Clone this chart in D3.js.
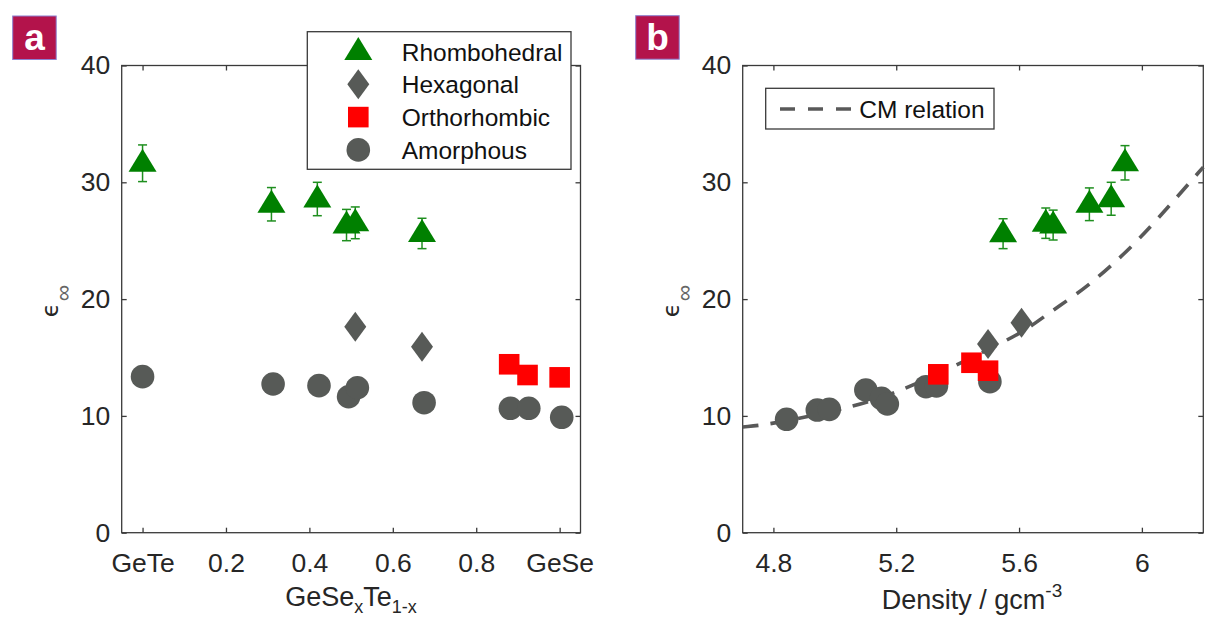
<!DOCTYPE html>
<html>
<head>
<meta charset="utf-8">
<script src="https://cdn.jsdelivr.net/npm/d3@7"></script>
<style>
body{margin:0;background:#fff}
svg text{font-family:"Liberation Sans",Arial,Helvetica,sans-serif}
</style>
</head>
<body>
<svg id="chart" width="1205" height="617"></svg>
<script>
// ---- data ----
// panel a : eps_inf vs composition x in GeSe_x Te_1-x
var comp_rhombo = [0, 0.309, 0.419, 0.489, 0.51, 0.67];
var eps_rhombo  = [31.63, 28.12, 28.57, 26.34, 26.53, 25.62];
var err_rhombo  = [1.57, 1.43, 1.43, 1.34, 1.36, 1.3];
var comp_hexa   = [0.51, 0.67];
var eps_hexa    = [17.64, 15.92];
var comp_ortho  = [0.879, 0.923, 1.0];
var eps_ortho   = [14.42, 13.5, 13.3];
var comp_amorph = [0, 0.313, 0.423, 0.494, 0.515, 0.675, 0.882, 0.926, 1.005];
var eps_amorph  = [13.36, 12.73, 12.59, 11.64, 12.41, 11.13, 10.65, 10.65, 9.88];

// panel b : eps_inf vs density
var dens_rhombo  = [5.548, 5.687, 5.711, 5.829, 5.9, 5.945];
var epsb_rhombo  = [25.6, 26.5, 26.34, 28.12, 28.59, 31.67];
var errb_rhombo  = [1.28, 1.3, 1.28, 1.4, 1.41, 1.47];
var dens_hexa    = [5.499, 5.608];
var epsb_hexa    = [16.16, 17.98];
var dens_ortho   = [5.337, 5.445, 5.499];
var epsb_ortho   = [13.56, 14.55, 13.87];
var dens_amorph  = [4.843, 4.943, 4.982, 5.101, 5.152, 5.171, 5.297, 5.331, 5.505];
var epsb_amorph  = [9.71, 10.5, 10.56, 12.22, 11.5, 11.02, 12.5, 12.56, 12.93];
var cm_dens = [4.70, 4.80, 5.07, 5.24, 5.59, 5.65, 5.73, 5.83, 5.97, 6.09, 6.20];
var cm_eps  = [9.05, 9.3, 10.8, 12.35, 16.8, 17.9, 19.4, 21.2, 24.5, 28.0, 31.3];

// ticks
var y_ticks = [0, 10, 20, 30, 40];
var xa_ticks = [0, 0.2, 0.4, 0.6, 0.8, 1];
var xa_labels = ["GeTe", "0.2", "0.4", "0.6", "0.8", "GeSe"];
var xb_ticks = [4.8, 5.2, 5.6, 6];
var xb_labels = ["4.8", "5.2", "5.6", "6"];
var legend_names = ["Rhombohedral", "Hexagonal", "Orthorhombic", "Amorphous"];

// ---- look ----
var top_y = 65.5, bottom_y = 532.7;
var ink = "#262626", frame_col = "#3a3a3a";
var gray = "#575a57", green = "#008000", err_green = "#1f8f1f", red = "#ff0000";

var svg = d3.select("#chart");

var y_scale = d3.scaleLinear().domain([0, 40]).range([bottom_y, top_y]);
var x_a = d3.scaleLinear().domain([-0.05, 1.05]).range([121.7, 580.5]);
var x_b = d3.scaleLinear().domain([4.7, 6.2]).range([742.7, 1203.3]);

var tri_path = "M0,-14.5L14,8.5L-14,8.5Z";
var dia_path = "M0,-15L11,0L0,15L-11,0Z";

function draw_axes(g, x, xticks, xlabels){
    var x0 = x.range()[0], x1 = x.range()[1];
    var bot = g.append("g").attr("transform", "translate(0," + bottom_y + ")")
        .call(d3.axisBottom(x).tickValues(xticks).tickFormat(function(d, i){return xlabels[i]})
            .tickSizeInner(-5).tickSizeOuter(0).tickPadding(20.5));
    var topa = g.append("g").attr("transform", "translate(0," + top_y + ")")
        .call(d3.axisTop(x).tickValues(xticks).tickFormat("").tickSizeInner(-5).tickSizeOuter(0));
    var lef = g.append("g").attr("transform", "translate(" + x0 + ",0)")
        .call(d3.axisLeft(y_scale).tickValues(y_ticks).tickSizeInner(-5).tickSizeOuter(0).tickPadding(11.5));
    var rig = g.append("g").attr("transform", "translate(" + x1 + ",0)")
        .call(d3.axisRight(y_scale).tickValues(y_ticks).tickFormat("").tickSizeInner(-5).tickSizeOuter(0));
    [bot, topa, lef, rig].forEach(function(a){
        a.select(".domain").remove();
        a.selectAll(".tick line").attr("stroke", frame_col).attr("stroke-width", 1.3);
        a.selectAll(".tick text").attr("fill", ink).style("font-size", "26.5px");
    });
    g.append("rect")
        .attr("x", x0).attr("y", top_y)
        .attr("width", x1 - x0).attr("height", bottom_y - top_y)
        .attr("fill", "none").attr("stroke", frame_col).attr("stroke-width", 1.3);
}

function draw_points(g, x, xs, ys, kind){
    var sel = g.append("g").selectAll("path").data(xs).enter();
    if(kind == "circle"){
        sel.append("circle")
            .attr("cx", function(d){return x(d)})
            .attr("cy", function(d, i){return y_scale(ys[i])})
            .attr("r", 11.8).attr("fill", gray);
    } else if(kind == "square"){
        sel.append("rect")
            .attr("x", function(d){return x(d) - 10.3})
            .attr("y", function(d, i){return y_scale(ys[i]) - 10.3})
            .attr("width", 20.6).attr("height", 20.6).attr("fill", red);
    } else {
        sel.append("path")
            .attr("d", kind == "triangle" ? tri_path : dia_path)
            .attr("transform", function(d, i){return "translate(" + x(d) + "," + y_scale(ys[i]) + ")"})
            .attr("fill", kind == "triangle" ? green : gray);
    }
}

function draw_errors(g, x, xs, ys, errs){
    xs.forEach(function(d, i){
        var px = x(d), lo = y_scale(ys[i] - errs[i]), hi = y_scale(ys[i] + errs[i]);
        var e = g.append("g").attr("stroke", err_green).attr("stroke-width", 1.5);
        e.append("line").attr("x1", px).attr("x2", px).attr("y1", lo).attr("y2", hi);
        e.append("line").attr("x1", px - 4.5).attr("x2", px + 4.5).attr("y1", lo).attr("y2", lo);
        e.append("line").attr("x1", px - 4.5).attr("x2", px + 4.5).attr("y1", hi).attr("y2", hi);
    });
}

function panel_label(txt, px, py){
    svg.append("rect").attr("x", px).attr("y", py).attr("width", 43.5).attr("height", 43.5)
        .attr("fill", "#b3134b").attr("stroke", "#8c80d0").attr("stroke-width", 1);
    svg.append("text").attr("x", px + 21.75).attr("y", py + 34).attr("text-anchor", "middle")
        .attr("fill", "#fff").style("font-size", "37px").style("font-weight", "bold").text(txt);
}

function y_label(xpos){
    var t = svg.append("text")
        .attr("transform", "translate(" + xpos + ",301) rotate(-90)")
        .attr("text-anchor", "middle").attr("fill", ink).style("font-size", "23px");
    t.append("tspan").style("font-family", "'DejaVu Sans'").text("\u03f5");
    t.append("tspan").attr("dx", 2).attr("dy", 13).attr("fill", "#666").style("font-size", "23px").text("\u221e");
}

// ---------- panel a ----------
var ga = svg.append("g");
draw_axes(ga, x_a, xa_ticks, xa_labels);
draw_errors(ga, x_a, comp_rhombo, eps_rhombo, err_rhombo);
draw_points(ga, x_a, comp_rhombo, eps_rhombo, "triangle");
draw_points(ga, x_a, comp_hexa, eps_hexa, "diamond");
draw_points(ga, x_a, comp_ortho, eps_ortho, "square");
draw_points(ga, x_a, comp_amorph, eps_amorph, "circle");

// legend a
var leg = ga.append("g");
leg.append("rect").attr("x", 307.3).attr("y", 31.7).attr("width", 263.7).attr("height", 137.6)
    .attr("fill", "#fff").attr("stroke", frame_col).attr("stroke-width", 1.3);
var kinds = ["triangle", "diamond", "square", "circle"];
legend_names.forEach(function(name, i){
    var ry = 51.5 + i * 32.8;
    var m = leg.append("g").attr("transform", "translate(358.3," + ry + ")");
    if(kinds[i] == "triangle") m.append("path").attr("d", tri_path).attr("fill", green);
    if(kinds[i] == "diamond") m.append("path").attr("d", dia_path).attr("fill", gray);
    if(kinds[i] == "square") m.append("rect").attr("x", -10.3).attr("y", -10.3).attr("width", 20.6).attr("height", 20.6).attr("fill", red);
    if(kinds[i] == "circle") m.append("circle").attr("r", 11.8).attr("fill", gray);
    leg.append("text").attr("x", 401.7).attr("y", ry + 9).attr("fill", "#111")
        .style("font-size", "24.5px").text(name);
});

// axis labels a
var xla = svg.append("text").attr("x", 351).attr("y", 606).attr("text-anchor", "middle")
    .attr("fill", ink).style("font-size", "27px");
xla.append("tspan").text("GeSe");
xla.append("tspan").attr("dy", 7).style("font-size", "18px").text("x");
xla.append("tspan").attr("dy", -7).text("Te");
xla.append("tspan").attr("dy", 7).style("font-size", "18px").text("1-x");
y_label(58.3);

// ---------- panel b ----------
var gb = svg.append("g");
draw_axes(gb, x_b, xb_ticks, xb_labels);
var cm_line = d3.line()
    .x(function(d){return x_b(d)})
    .y(function(d, i){return y_scale(cm_eps[i])})
    .curve(d3.curveBasis);
gb.append("path").attr("d", cm_line(cm_dens))
    .attr("fill", "none").attr("stroke", "#595959").attr("stroke-width", 3.6)
    .attr("stroke-dasharray", "16,12");
draw_points(gb, x_b, dens_amorph, epsb_amorph, "circle");
draw_points(gb, x_b, dens_ortho, epsb_ortho, "square");
draw_points(gb, x_b, dens_hexa, epsb_hexa, "diamond");
draw_errors(gb, x_b, dens_rhombo, epsb_rhombo, errb_rhombo);
draw_points(gb, x_b, dens_rhombo, epsb_rhombo, "triangle");

// legend b
var legb = gb.append("g");
legb.append("rect").attr("x", 765.7).attr("y", 88.3).attr("width", 228.3).attr("height", 40.7)
    .attr("fill", "#fff").attr("stroke", frame_col).attr("stroke-width", 1.3);
legb.append("line").attr("x1", 780).attr("x2", 852).attr("y1", 109).attr("y2", 109)
    .attr("stroke", "#595959").attr("stroke-width", 3.6).attr("stroke-dasharray", "15,13");
legb.append("text").attr("x", 859.3).attr("y", 118.3).attr("fill", "#111")
    .style("font-size", "24.5px").text("CM relation");

var xlb = svg.append("text").attr("x", 972).attr("y", 608.5).attr("text-anchor", "middle")
    .attr("fill", ink).style("font-size", "27px");
xlb.append("tspan").text("Density / gcm");
xlb.append("tspan").attr("dy", -12).style("font-size", "19px").text("-3");
y_label(679.3);

panel_label("a", 12.7, 16);
panel_label("b", 635.7, 15.7);
</script>
</body>
</html>
